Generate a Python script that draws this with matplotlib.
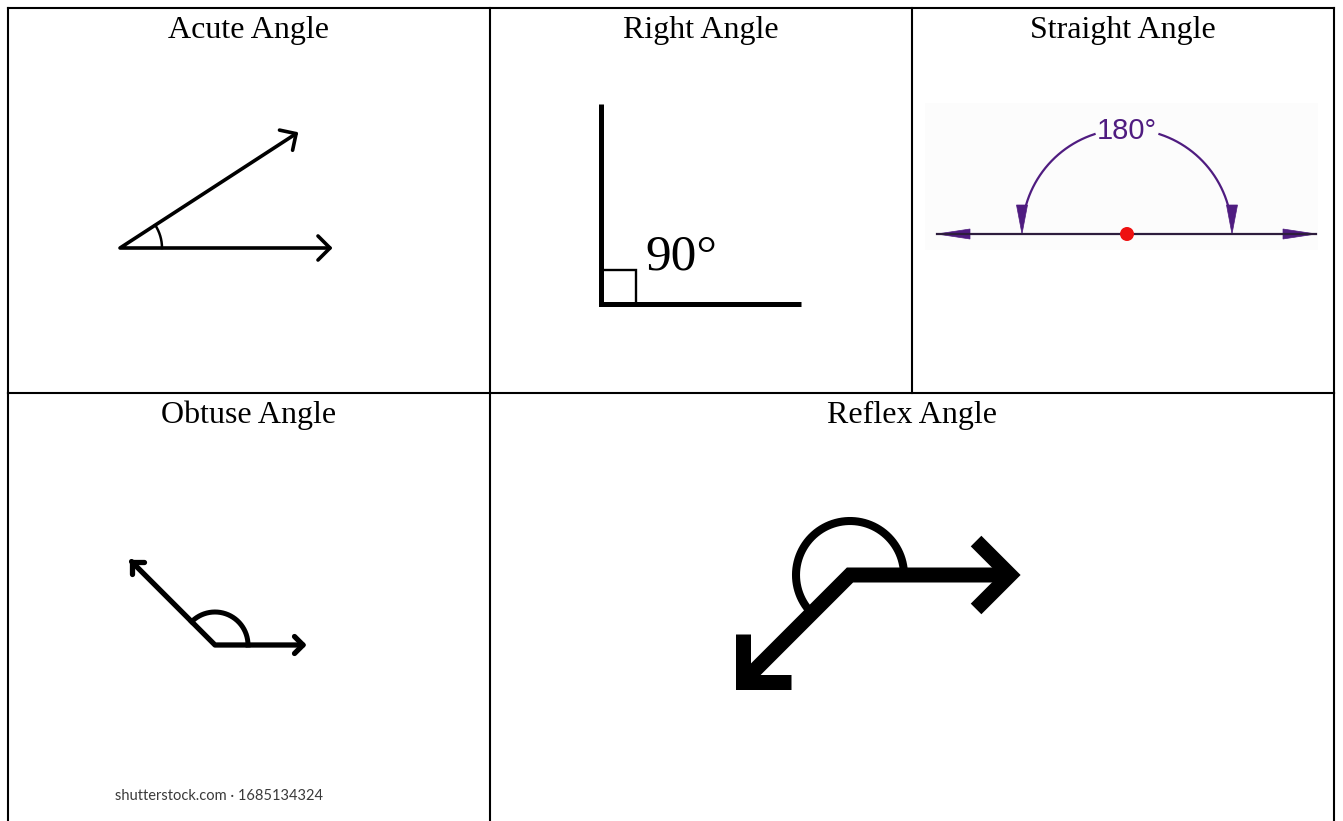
import numpy as np
import matplotlib.pyplot as plt
from matplotlib.patches import Polygon, Circle, Rectangle

W, H = 1343, 821

# table layout (pixels)
top_cols = [8, 490, 912, 1334]
bottom_cols = [8, 490, 1334]
row_edges = [8, 393, 821]

titles = ["Acute Angle", "Right Angle", "Straight Angle", "Obtuse Angle", "Reflex Angle"]
angle_values = [33, 90, 180, 135, 225]
angle_labels = ["", "90°", "180°", "", ""]
watermark = "shutterstock.com · 1685134324"

PURPLE = "#4f1c80"
SERIF = "Liberation Serif"
SANS = "Liberation Sans"


def end_point(v, ang, length):
    a = np.radians(ang)
    return (v[0] + length * np.cos(a), v[1] - length * np.sin(a))


def polyline(ax, pts, **kw):
    xs = [p[0] for p in pts]
    ys = [p[1] for p in pts]
    ax.plot(xs, ys, **kw)


def chevron(ax, tip, ang, arm, **kw):
    # open arrow head, arms 45 deg back from the tip
    back = ang + 180
    polyline(ax, [end_point(tip, back + 45, arm), tip, end_point(tip, back - 45, arm)], **kw)


def arc(ax, v, r, a0, a1, **kw):
    t = np.radians(np.linspace(a0, a1, 200))
    ax.plot(v[0] + r * np.cos(t), v[1] - r * np.sin(t), **kw)


def filled_head(ax, tip, ang, length, half_w, color):
    base = end_point(tip, ang + 180, length)
    p1 = end_point(base, ang + 90, half_w)
    p2 = end_point(base, ang - 90, half_w)
    ax.add_patch(Polygon([tip, p1, p2], closed=True, facecolor=color, edgecolor=color, lw=0.5))


fig = plt.figure(figsize=(W / 100, H / 100), dpi=100)
ax = fig.add_axes([0, 0, 1, 1])
ax.set_xlim(0, W)
ax.set_ylim(H, 0)
ax.axis("off")

# ---- table grid
grid_kw = dict(color="black", lw=1.5, solid_capstyle="projecting")
for y in row_edges[:2]:
    ax.plot([top_cols[0], top_cols[-1]], [y, y], **grid_kw)
for x in top_cols:
    ax.plot([x, x], [row_edges[0], row_edges[1]], **grid_kw)
for x in bottom_cols:
    ax.plot([x, x], [row_edges[1], row_edges[2] + 5], **grid_kw)

# ---- titles
centers = [(top_cols[i] + top_cols[i + 1]) / 2 for i in range(3)]
centers += [(bottom_cols[i] + bottom_cols[i + 1]) / 2 for i in range(2)]
tops = [row_edges[0]] * 3 + [row_edges[1]] * 2
for title, cx, ty in zip(titles, centers, tops):
    ax.text(cx, ty + 30, title, fontsize=23, family=SERIF, ha="center", va="baseline")

# ---- acute angle
v = (120, 248)
a = angle_values[0]
kw = dict(color="black", lw=2.6, solid_capstyle="round", solid_joinstyle="round")
polyline(ax, [end_point(v, a, 210), v, end_point(v, 0, 210)], **kw)
chevron(ax, end_point(v, 0, 210), 0, 17, **kw)
chevron(ax, end_point(v, a, 210), a, 17, **kw)
arc(ax, v, 42, 0, a, color="black", lw=1.8)

# ---- right angle
v = (601, 304)
a = angle_values[1]
polyline(ax, [end_point(v, a, 200), v, end_point(v, 0, 200)],
         color="black", lw=3.6, solid_capstyle="butt", solid_joinstyle="miter")
ax.add_patch(Rectangle((v[0], v[1] - 34), 35, 34, fill=False, edgecolor="black", lw=1.7))
ax.text(645, 270, angle_labels[1], fontsize=37, family=SERIF, ha="left", va="baseline")

# ---- straight angle
ax.add_patch(Rectangle((925, 103), 393, 147, facecolor="#fcfcfc", edgecolor="none"))
v = (1127, 234)
r = 105
ax.plot([937, 1316], [v[1], v[1]], color="#2d1d3d", lw=1.6)
filled_head(ax, (937, v[1]), 180, 33, 5, PURPLE)
filled_head(ax, (1316, v[1]), 0, 33, 5, PURPLE)
arc(ax, v, r, 16, 72, color=PURPLE, lw=1.6)
arc(ax, v, r, 108, 164, color=PURPLE, lw=1.6)
filled_head(ax, (v[0] + r, v[1]), -90, 29, 5.5, PURPLE)
filled_head(ax, (v[0] - r, v[1]), -90, 29, 5.5, PURPLE)
ax.add_patch(Circle(v, 7, facecolor="#ee1111", edgecolor="none", zorder=5))
ax.text(v[0], v[1] - r + 10, angle_labels[2], fontsize=21, family=SANS, color=PURPLE,
        ha="center", va="baseline")

# ---- obtuse angle
v = (215, 645)
a = angle_values[3]
kw = dict(color="black", lw=3.8, solid_capstyle="round", solid_joinstyle="round")
polyline(ax, [end_point(v, a, 118), v, end_point(v, 0, 88)], **kw)
chevron(ax, end_point(v, 0, 88), 0, 12, **kw)
chevron(ax, end_point(v, a, 118), a, 12, **kw)
arc(ax, v, 33, 0, a, color="black", lw=3.6)
ax.text(115, 800, watermark, fontsize=10.5, family="Lato", color="#3a3a3a",
        ha="left", va="baseline")

# ---- reflex angle
v = (850, 575)
a = angle_values[4]
kw = dict(color="black", lw=10.8, solid_capstyle="butt", solid_joinstyle="miter")
polyline(ax, [end_point(v, a, 152), v, end_point(v, 0, 160)], **kw)
chevron(ax, end_point(v, 0, 160), 0, 48, **kw)
chevron(ax, end_point(v, a, 152), a, 48, **kw)
arc(ax, v, 54, 0, a, color="black", lw=5.8, solid_capstyle="butt")

fig.savefig("out.png", dpi=100, facecolor="white")
